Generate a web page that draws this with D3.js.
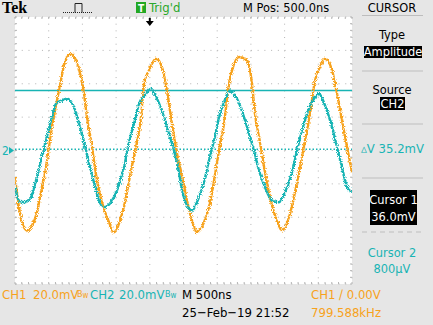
<!DOCTYPE html>
<html>
<head>
<meta charset="utf-8">
<script src="https://cdn.jsdelivr.net/npm/d3@7"></script>
<style>
  body { margin: 0; background: #e6e6e6; }
  svg { display: block; }
  text { font-family: "Liberation Sans Narrow", "DejaVu Sans Condensed", "Liberation Sans", sans-serif; }
</style>
</head>
<body>
<svg id="scope" width="433" height="325"></svg>
<script>
// CH1 (orange) samples: time in ns (trigger = 0), level in mV
var ch1Time = [-2000,-1941,-1896,-1822,-1748,-1674,-1614,-1540,-1496,-1451,-1377,-1318,-1273,-1169,-1095,-1021,-976,-932,-858,-783,-709,-605,-531,-427,-353,-279,-205,-130,-86,-12,92,181,255,329,404,478,552,626,700,804,878,953,1027,1101,1175,1220,1324,1443,1516,1561,1635,1709,1783,1887,1962,2065,2154,2229,2303,2377,2451,2525,2600,2704,2778,2852,2926,3000];
var ch1mV   = [-16,-34,-43,-48,-45,-37,-25,-10,2,14,30,42,51,58,54,44,34,20,2,-18,-31,-43,-49,-40,-28,-12,2,20,40,48,55,50,36,16,-2,-15,-30,-42,-49,-43,-34,-18,0,16,40,48,56,54,40,22,5,-13,-28,-42,-48,-40,-25,-10,6,22,42,50,55,48,34,18,2,-13];

// CH2 (cyan) samples
var ch2Time = [-2000,-1941,-1866,-1763,-1689,-1614,-1540,-1466,-1392,-1303,-1229,-1125,-1050,-976,-902,-828,-754,-680,-576,-487,-383,-309,-234,-160,-56,18,107,211,285,359,433,478,626,700,804,878,953,1027,1101,1190,1294,1398,1472,1546,1620,1709,1813,1917,2006,2110,2184,2258,2332,2407,2510,2600,2704,2778,2852,2926,3000];
var ch2mV   = [-22,-30,-31,-28,-18,-6,6,18,28,30,31,26,16,5,-8,-19,-30,-34,-31,-24,-10,5,16,28,34,37,31,20,10,0,-13,-24,-36,-31,-19,-6,6,20,29,36,31,20,10,0,-12,-22,-30,-31,-25,-13,0,12,22,29,34,27,14,2,-10,-22,-25];

// screen divisions
var timeTicks = d3.range(-2000, 3001, 500);   // 500 ns/div
var voltTicks = d3.range(-80, 81, 20);        // 20 mV/div

var cursor1mV = 36.0;
var cursor2mV = 0.8;
var triggerTime = 0;

var svg = d3.select("#scope");
var gLeft = 15, gRight = 352, gTop = 17, gBottom = 284;

var x = d3.scaleLinear().domain([-2000, 3000]).range([gLeft, gRight]);
var y = d3.scaleLinear().domain([-80, 80]).range([gBottom, gTop]);

var orange = "#f7a21c";
var cyan = "#18b4b4";
var gridGrey = "#b4b4b4";

// backgrounds
svg.append("rect").attr("width", 433).attr("height", 325).attr("fill", "#e6e6e6");
svg.append("rect").attr("x", gLeft).attr("y", gTop)
    .attr("width", gRight - gLeft).attr("height", gBottom - gTop).attr("fill", "#ffffff");

// graticule: dotted lines
var grid = svg.append("g");
grid.selectAll(".vgrid").data(timeTicks).enter().append("line")
    .attr("x1", function (d) { return x(d); }).attr("x2", function (d) { return x(d); })
    .attr("y1", gTop).attr("y2", gBottom)
    .attr("stroke", gridGrey).attr("stroke-width", 1)
    .attr("stroke-dasharray", "1," + ((gBottom - gTop) / 40 - 1));
grid.selectAll(".hgrid").data(voltTicks).enter().append("line")
    .attr("y1", function (d) { return y(d); }).attr("y2", function (d) { return y(d); })
    .attr("x1", gLeft).attr("x2", gRight)
    .attr("stroke", gridGrey).attr("stroke-width", 1)
    .attr("stroke-dasharray", "1," + ((gRight - gLeft) / 50 - 1));

// minor ticks on the border
var minorT = d3.range(-2000, 3001, 100);
var minorV = d3.range(-80, 81, 4);
grid.selectAll(".tt").data(minorT).enter().append("line")
    .attr("x1", function (d) { return x(d); }).attr("x2", function (d) { return x(d); })
    .attr("y1", gTop).attr("y2", gTop + 2).attr("stroke", gridGrey);
grid.selectAll(".tb").data(minorT).enter().append("line")
    .attr("x1", function (d) { return x(d); }).attr("x2", function (d) { return x(d); })
    .attr("y1", gBottom - 2).attr("y2", gBottom).attr("stroke", gridGrey);
grid.selectAll(".tl").data(minorV).enter().append("line")
    .attr("y1", function (d) { return y(d); }).attr("y2", function (d) { return y(d); })
    .attr("x1", gLeft).attr("x2", gLeft + 2).attr("stroke", gridGrey);
grid.selectAll(".tr").data(minorV).enter().append("line")
    .attr("y1", function (d) { return y(d); }).attr("y2", function (d) { return y(d); })
    .attr("x1", gRight - 2).attr("x2", gRight).attr("stroke", gridGrey);

// cursors
svg.append("line").attr("x1", gLeft).attr("x2", gRight)
    .attr("y1", y(cursor1mV)).attr("y2", y(cursor1mV))
    .attr("stroke", cyan).attr("stroke-width", 1.6);
svg.append("line").attr("x1", gLeft).attr("x2", gRight)
    .attr("y1", y(cursor2mV)).attr("y2", y(cursor2mV))
    .attr("stroke", cyan).attr("stroke-width", 1.5).attr("stroke-dasharray", "1.5,2");

// noisy look of the traces
var defs = svg.append("defs");
var f = defs.append("filter").attr("id", "fuzz").attr("x", "-5%").attr("y", "-5%")
    .attr("width", "110%").attr("height", "110%");
f.append("feTurbulence").attr("type", "fractalNoise").attr("baseFrequency", "1.2")
    .attr("numOctaves", 1).attr("seed", 3).attr("result", "n");
f.append("feDisplacementMap").attr("in", "SourceGraphic").attr("in2", "n")
    .attr("scale", 5).attr("xChannelSelector", "R").attr("yChannelSelector", "G");

var line = d3.line()
    .x(function (d) { return x(d[0]); })
    .y(function (d) { return y(d[1]); })
    .curve(d3.curveMonotoneX);

var clip = defs.append("clipPath").attr("id", "plotclip");
clip.append("rect").attr("x", gLeft).attr("y", gTop).attr("width", gRight - gLeft).attr("height", gBottom - gTop);

var traces = svg.append("g").attr("clip-path", "url(#plotclip)");
traces.append("path")
    .datum(d3.zip(ch1Time, ch1mV))
    .attr("d", line).attr("fill", "none")
    .attr("stroke", orange).attr("stroke-width", 2.4)
    .attr("filter", "url(#fuzz)");
traces.append("path")
    .datum(d3.zip(ch2Time, ch2mV))
    .attr("d", line).attr("fill", "none")
    .attr("stroke", cyan).attr("stroke-width", 2.4)
    .attr("filter", "url(#fuzz)");

// CH2 ground marker
svg.append("text").attr("x", 2).attr("y", y(0) + 4.5).attr("fill", cyan)
    .attr("font-size", 12).text("2");
svg.append("path")
    .attr("d", "M9," + (y(0) - 3.5) + "L14," + y(0) + "L9," + (y(0) + 3.5) + "Z")
    .attr("fill", cyan);

// trigger position arrow
var tx = x(triggerTime);
svg.append("path")
    .attr("d", "M" + (tx - 1) + ",18L" + (tx + 1) + ",18L" + (tx + 1) + ",21L" + (tx + 4) + ",21L" + tx + ",26L" + (tx - 4) + ",21L" + (tx - 1) + ",21Z")
    .attr("fill", "#000");

// top bar
svg.append("text").attr("x", 2).attr("y", 13)
    .style("font-family", "'Liberation Serif', 'DejaVu Serif', serif")
    .attr("font-weight", "bold").attr("font-size", 16).text("Tek");

// acquisition icon
var icon = svg.append("g").attr("stroke", "#222").attr("fill", "none").attr("stroke-width", 1);
icon.append("path").attr("d", "M63,12.5H93").attr("stroke-dasharray", "1,1");
icon.append("path").attr("d", "M75,12.5V3.5H82V12.5");

svg.append("rect").attr("x", 136).attr("y", 2).attr("width", 10).attr("height", 11).attr("fill", "#23a823");
svg.append("text").attr("x", 141).attr("y", 11.5).attr("text-anchor", "middle")
    .attr("fill", "#fff").attr("font-size", 10).attr("font-weight", "bold").text("T");
svg.append("text").attr("x", 149).attr("y", 12).attr("fill", "#2aa82a")
    .attr("font-size", 13).text("Trig'd");
svg.append("text").attr("x", 243).attr("y", 12).attr("fill", "#000")
    .attr("font-size", 12.7).text("M Pos: 500.0ns");

// right side menu
var menuX = 392;
svg.append("text").attr("x", menuX).attr("y", 12).attr("text-anchor", "middle")
    .attr("font-size", 12.7).text("CURSOR");
function sep(yy, dashed) {
    svg.append("line").attr("x1", 362).attr("x2", 423).attr("y1", yy).attr("y2", yy)
        .attr("stroke", "#bdbdbd").attr("stroke-width", 1.2)
        .attr("stroke-dasharray", dashed ? "5,4" : null);
}
sep(15.5); sep(71); sep(124); sep(178); sep(232, true);

svg.append("text").attr("x", menuX).attr("y", 39).attr("text-anchor", "middle")
    .attr("font-size", 12.7).text("Type");
svg.append("rect").attr("x", 364).attr("y", 46).attr("width", 58).attr("height", 12).attr("fill", "#000");
svg.append("text").attr("x", 393).attr("y", 56).attr("text-anchor", "middle")
    .attr("fill", "#fff").attr("font-size", 12.7).text("Amplitude");

svg.append("text").attr("x", menuX).attr("y", 94).attr("text-anchor", "middle")
    .attr("font-size", 12.7).text("Source");
svg.append("rect").attr("x", 380).attr("y", 97).attr("width", 25).attr("height", 13).attr("fill", "#000");
svg.append("text").attr("x", 392.5).attr("y", 108).attr("text-anchor", "middle")
    .attr("fill", "#fff").attr("font-size", 12.7).text("CH2");

svg.append("text").attr("x", 361).attr("y", 153).attr("fill", cyan)
    .attr("font-size", 13).text("\u25B5V 35.2mV");

svg.append("rect").attr("x", 370).attr("y", 190).attr("width", 47).attr("height", 35).attr("fill", "#000");
svg.append("text").attr("x", 393.5).attr("y", 204).attr("text-anchor", "middle")
    .attr("fill", "#fff").attr("font-size", 12.7).text("Cursor 1");
svg.append("text").attr("x", 393.5).attr("y", 221).attr("text-anchor", "middle")
    .attr("fill", "#fff").attr("font-size", 12.7).text(cursor1mV.toFixed(1) + "mV");

svg.append("text").attr("x", menuX).attr("y", 257).attr("text-anchor", "middle")
    .attr("fill", cyan).attr("font-size", 12.7).text("Cursor 2");
svg.append("text").attr("x", menuX).attr("y", 273).attr("text-anchor", "middle")
    .attr("fill", cyan).attr("font-size", 12.7).text("800\u00B5V");

// bottom readouts
function readout(xx, yy, col, s) {
    return svg.append("text").attr("x", xx).attr("y", yy).attr("fill", col)
        .attr("font-size", 13).text(s);
}
function bw(xx, col) {
    var t = svg.append("text").attr("x", xx).attr("y", 297).attr("fill", col).attr("font-size", 9);
    t.append("tspan").text("B");
    t.append("tspan").attr("font-size", 8).attr("dy", 1).text("w");
}
readout(2, 299, orange, "CH1");
readout(33, 299, orange, "20.0mV");
bw(77, orange);
readout(90, 299, cyan, "CH2");
readout(119, 299, cyan, "20.0mV");
bw(165, cyan);
readout(182, 299, "#000", "M 500ns");
readout(182, 317, "#000", "25\u2212Feb\u221219 21:52");
readout(311, 299, orange, "CH1 \u2215 0.00V");
readout(311, 317, orange, "799.588kHz");
</script>
</body>
</html>
